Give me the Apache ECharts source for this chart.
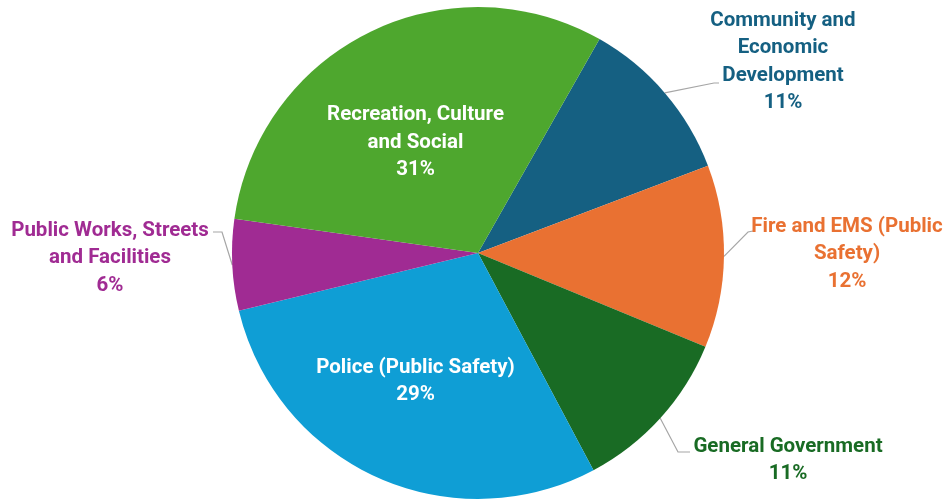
<!DOCTYPE html>
<html>
<head>
<meta charset="utf-8">
<script src="https://cdn.jsdelivr.net/npm/echarts@6/dist/echarts.min.js"></script>
<style>
html,body{margin:0;padding:0;background:#ffffff;}
#chart{width:945px;height:502px;}
</style>
</head>
<body>
<div id="chart"></div>
<script>
// ---- data ----
const categories = ['Community and Economic Development', 'Fire and EMS (Public Safety)', 'General Government', 'Police (Public Safety)', 'Public Works, Streets and Facilities', 'Recreation, Culture and Social'];
const labelText = ['Community and\nEconomic\nDevelopment', 'Fire and EMS (Public\nSafety)', 'General Government', 'Police (Public Safety)', 'Public Works, Streets\nand Facilities', 'Recreation, Culture\nand Social'];
const values = [11, 12, 11, 29, 6, 31];
const colors = ['#156082', '#E97132', '#196B24', '#0F9ED5', '#A02B93', '#4EA72E'];
const insideLabel = [false, false, false, true, false, true];

// ---- label layout (positions of label blocks and leader elbows) ----
const labelCenter = [[783, 62], [847, 254], [788, 460.5], [415.5, 381.5], [110, 258], [415.5, 142.5]];
const guideElbow = [[[714, 83], [719, 83]], [[748, 232], [753, 231]], [[678, 452], [690, 452]], null, [[222, 232], [213, 232]], null];

const chart = echarts.init(document.getElementById('chart'), null, {renderer: 'canvas'});
const data = values.map((v, i) => ({
  name: categories[i],
  value: v,
  itemStyle: {color: colors[i]},
  label: {
    position: insideLabel[i] ? 'inside' : 'outside',
    color: insideLabel[i] ? '#ffffff' : colors[i]
  },
  labelLine: {show: !insideLabel[i]}
}));

chart.setOption({
  backgroundColor: '#ffffff',
  animation: false,
  series: [{
    type: 'pie',
    center: [478, 253],
    radius: 246,
    startAngle: 60.4,
    clockwise: true,
    avoidLabelOverlap: false,
    minShowLabelAngle: 0,
    data: data,
    itemStyle: {borderWidth: 0},
    label: {
      show: true,
      fontFamily: 'Roboto',
      fontWeight: 'bold',
      fontSize: 20.5,
      lineHeight: 27.5,
      align: 'center',
      formatter: (p) => labelText[p.dataIndex] + '\n' + values[p.dataIndex] + '%'
    },
    labelLine: {
      show: true,
      length: 20,
      length2: 10,
      lineStyle: {color: '#a6a6a6', width: 1.2}
    },
    labelLayout: function (params) {
      const i = params.dataIndex;
      const res = {
        x: labelCenter[i][0],
        y: labelCenter[i][1],
        align: 'center',
        verticalAlign: 'middle'
      };
      if (guideElbow[i] && params.labelLinePoints) {
        const p0 = params.labelLinePoints[0];
        res.labelLinePoints = [p0, guideElbow[i][0], guideElbow[i][1]];
      }
      return res;
    }
  }]
});
</script>
</body>
</html>
